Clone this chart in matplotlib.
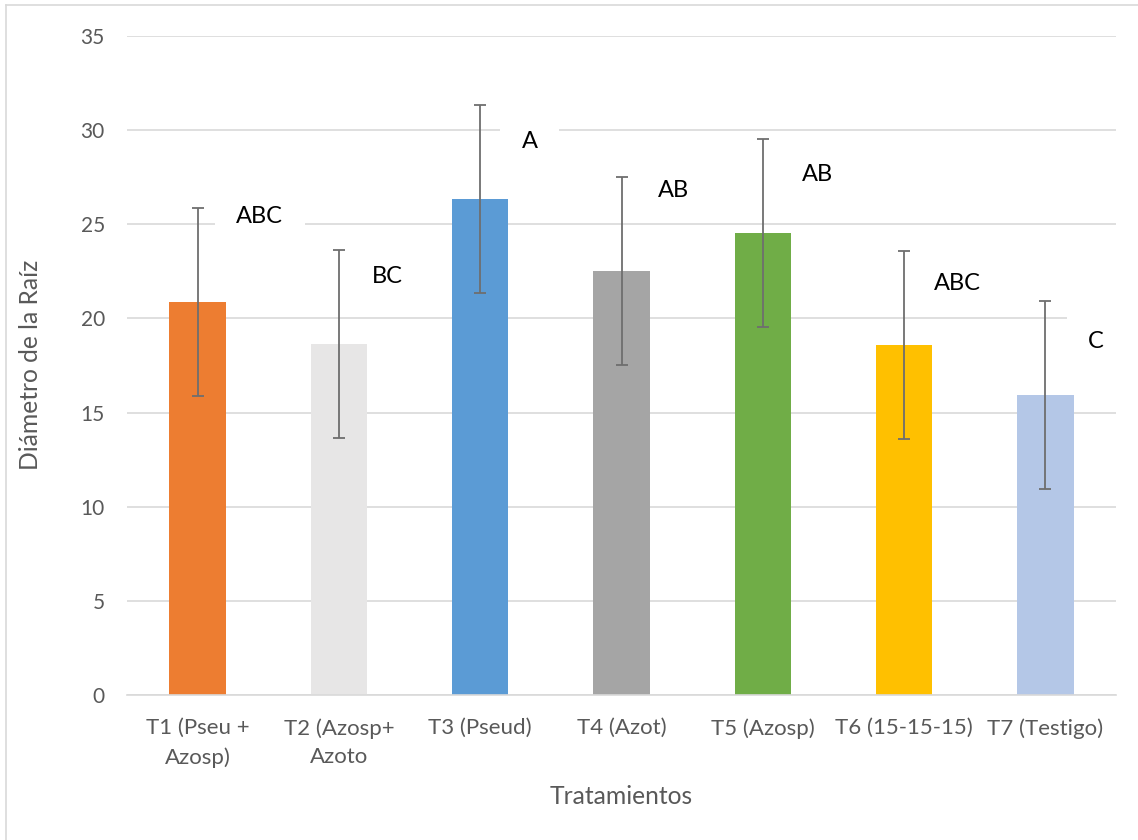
import matplotlib
matplotlib.use("Agg")
import matplotlib.pyplot as plt
from matplotlib.lines import Line2D

plt.rcParams['font.family'] = ['Lato', 'DejaVu Sans']

categories = ["T1 (Pseu +\nAzosp)", "T2 (Azosp+\nAzoto", "T3 (Pseud)", "T4 (Azot)",
              "T5 (Azosp)", "T6 (15-15-15)", "T7 (Testigo)"]
values = [20.87, 18.64, 26.34, 22.52, 24.54, 18.59, 15.93]
errors = [5.0, 5.0, 5.0, 5.0, 5.0, 5.0, 5.0]
letters = ["ABC", "BC", "A", "AB", "AB", "ABC", "C"]
letter_y = [25.44, 22.25, 29.42, 26.82, 27.62, 21.88, 18.8]
colors = ["#ED7D31", "#E7E6E6", "#5B9BD5", "#A5A5A5", "#70AD47", "#FFC000", "#B4C7E7"]
letter_dx = [0.44, 0.34, 0.35, 0.37, 0.39, 0.38, 0.36]

W, H = 1138, 840
fig = plt.figure(figsize=(W / 100, H / 100), dpi=100)
ax = fig.add_axes([127 / W, 1 - 695 / H, (1116 - 127) / W, (695 - 36) / H])

x = list(range(len(categories)))
ax.bar(x, values, width=0.4, color=colors, zorder=2)
ax.errorbar(x, values, yerr=errors, fmt='none', ecolor='#6E6E6E', elinewidth=1.3,
            capsize=4, capthick=1.3, zorder=3)

for i, (t, yy) in enumerate(zip(letters, letter_y)):
    ax.text(i + letter_dx[i], yy, t, ha='center', va='center', fontsize=17, color='black',
            zorder=4, clip_on=False,
            bbox=dict(boxstyle='square,pad=0.9', facecolor='white', edgecolor='none'))

ax.set_xlim(-0.5, len(categories) - 0.5)
ax.set_ylim(0, 35)
ax.set_yticks(range(0, 36, 5))
ax.set_xticks(x)
ax.set_xticklabels(categories, fontsize=16, color='#595959', linespacing=1.55)
ax.tick_params(axis='y', length=0, pad=16, labelsize=15, labelcolor='#595959')
ax.tick_params(axis='x', length=0, pad=16.5)
ax.grid(axis='y', color='#D9D9D9', linewidth=1.2, zorder=0)
ax.set_axisbelow(True)
for s in ['top', 'right', 'left']:
    ax.spines[s].set_visible(False)
ax.spines['bottom'].set_color('#D9D9D9')
ax.spines['bottom'].set_linewidth(1.2)

fig.text(621 / W, 1 - 797 / H, "Tratamientos", ha='center', va='center', fontsize=17.75, color='#595959')
fig.text(31 / W, 1 - 365 / H, "Diámetro de la Raíz", ha='center', va='center', rotation=90,
         fontsize=17.75, color='#595959')

fig.add_artist(Line2D([6 / W, 6 / W], [0, 1 - 5 / H], color='#D9D9D9', linewidth=1.2,
                      transform=fig.transFigure))
fig.add_artist(Line2D([6 / W, 1], [1 - 5 / H, 1 - 5 / H], color='#D9D9D9', linewidth=1.2,
                      transform=fig.transFigure))

fig.savefig("out.png", dpi=100)
